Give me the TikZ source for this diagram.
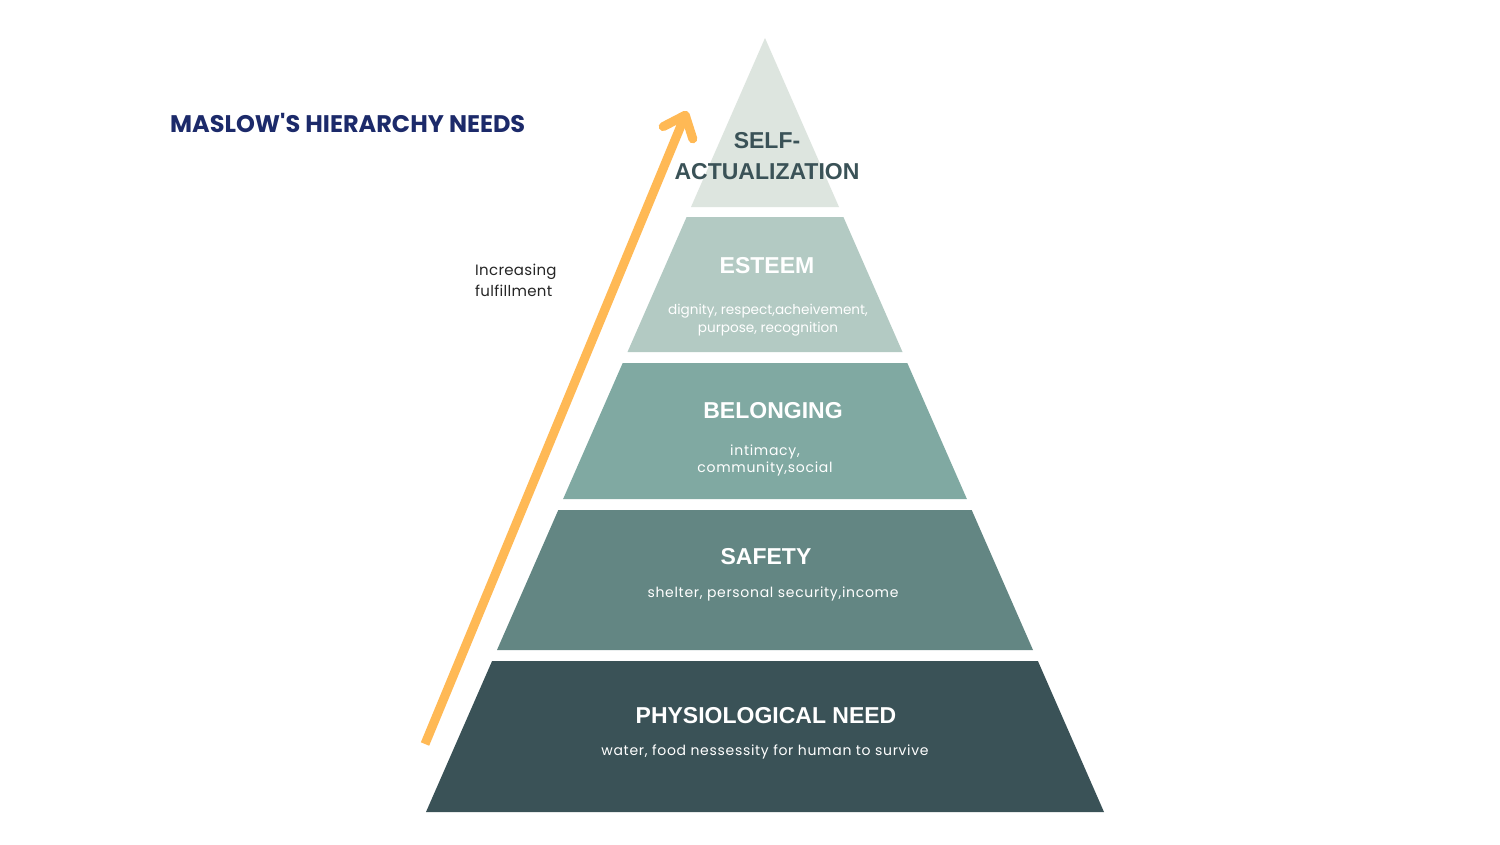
\documentclass[tikz,border=0pt]{standalone}
\usepackage{fontspec}
\usepackage{xcolor}
\usepackage{tikz}
\usetikzlibrary{arrows.meta, positioning}

\setmainfont{Liberation Sans}
\newfontfamily\popfont{Poppins}
\newfontfamily\popwide[LetterSpace=5]{Poppins}

\definecolor{lvltop}{HTML}{DDE5DF}
\definecolor{lvlesteem}{HTML}{B3CAC3}
\definecolor{lvlbelong}{HTML}{80A9A2}
\definecolor{lvlsafety}{HTML}{638683}
\definecolor{lvlbase}{HTML}{3A5257}
\definecolor{navy}{HTML}{1C2A6A}
\definecolor{growth}{HTML}{FFB955}

\begin{document}
\begin{tikzpicture}[x=1pt, y=-1pt,
	head/.style={font=\fontsize{23}{28}\selectfont\bfseries, text=white, inner sep=0pt},
	sub/.style={font=\popwide\fontsize{14}{17.5}\selectfont, text=white, align=center, inner sep=0pt}]
	\fill[white] (0,0) rectangle (1500,844);
	\useasboundingbox (0,0) rectangle (1500,844);
	% pyramid levels
	\fill[lvltop] (765,38) -- (839,207) -- (691,207) -- cycle;
	\fill[lvlesteem] (686.6,217) -- (843.4,217) -- (902.5,352) -- (627.5,352) -- cycle;
	\fill[lvlbelong] (622.7,363) -- (907.3,363) -- (966.9,499) -- (563.1,499) -- cycle;
	\fill[lvlsafety] (558.3,510) -- (971.7,510) -- (1033,650) -- (497,650) -- cycle;
	\fill[lvlbase] (492.1,661) -- (1037.9,661) -- (1104,812) -- (426,812) -- cycle;
	% labels
	\node[anchor=west, font=\popfont\fontsize{24}{28}\selectfont\bfseries, text=navy, inner sep=0pt] (title) at (170,123) {MASLOW'S HIERARCHY NEEDS};
	\node[head, text=lvlbase, align=center, font=\fontsize{23}{31}\selectfont\bfseries] (selfact) at (767,156) {SELF-\\ACTUALIZATION};
	\node[head] (esteem) at (767,266) {ESTEEM};
	\node[sub, font=\popfont\fontsize{13.6}{18}\selectfont] (esteemsub) at (768,320) {dignity, respect,acheivement,\\purpose, recognition};
	\node[head] (belong) at (773,411) {BELONGING};
	\node[sub] (belongsub) at (765,460.5) {intimacy,\\community,social};
	\node[head] (safety) at (766,557) {SAFETY};
	\node[sub] (safetysub) at (773,594) {shelter, personal security,income};
	\node[head] (physio) at (766,716) {PHYSIOLOGICAL NEED};
	\node[sub] (physiosub) at (765,752) {water, food nessessity for human to survive};
	\node[anchor=west, align=left, font=\popfont\addfontfeature{LetterSpace=2}\fontsize{15}{21}\selectfont, text=black!85, inner sep=0pt] (incr) at (475,280) {Increasing\\fulfillment};
	% arrow
	\coordinate (tail) at (425,744);
	\coordinate (tip) at (687,111);
	\draw[growth, line width=9pt, -{Straight Barb[length=19pt, width=32pt, round]}] (tail) -- (tip);
\end{tikzpicture}
\end{document}
